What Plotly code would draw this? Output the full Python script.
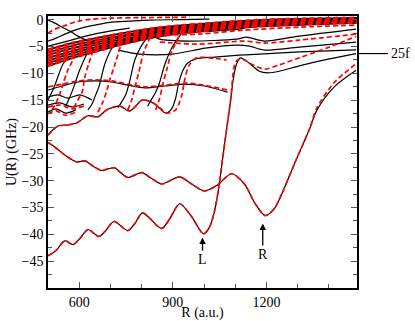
import plotly.graph_objects as go

# --- deep curves (black = one calculation, red dashed = the other) ---
L_R = [500, 526, 554, 580, 602, 628, 663, 685, 711, 756, 778, 803, 864, 890, 922, 960, 998,
       1017, 1033, 1046, 1059, 1072, 1085, 1094, 1104, 1116, 1145, 1177, 1203, 1241, 1305, 1401, 1487]
L_U = [-44.0, -43.0, -41.2, -41.9, -40.8, -39.1, -40.4, -39.3, -37.6, -39.3, -38.0, -36.0, -38.9, -37.1, -34.3, -36.7, -39.9,
       -38.7, -35.8, -31.7, -26.1, -20.5, -15.0, -10.9, -8.25, -7.1, -8.1, -9.6, -9.9, -9.6, -8.6, -7.3, -6.3]
L_RED_R = L_R[:23] + [1097, 1107, 1129, 1151, 1193, 1241, 1305, 1401, 1487]
L_RED_U = L_U[:23] + [-8.6, -7.5, -7.5, -8.25, -9.2, -8.4, -7.1, -5.1, -3.1]

RC_R = [500, 516, 532, 561, 593, 618, 647, 672, 692, 714, 733, 756, 800, 832, 864, 922, 960, 1001,
        1043, 1088, 1129, 1164, 1196, 1225, 1251, 1295, 1337, 1362, 1417, 1487]
RC_U = [-22.9, -23.5, -24.2, -25.5, -26.5, -26.3, -27.4, -28.1, -27.8, -27.6, -28.5, -29.4, -28.5, -29.6, -30.6, -29.3, -30.6, -31.9,
        -30.8, -28.7, -30.6, -34.3, -36.5, -35.2, -32.2, -26.1, -20.5, -16.8, -12.5, -9.4]
RC_RED_R = RC_R[:27] + [1362, 1417, 1487]
RC_RED_U = RC_U[:27] + [-16.4, -11.7, -8.2]

C_R = [500, 516, 532, 564, 593, 628, 660, 688, 730, 762, 803, 842, 877, 896, 909, 918, 931, 947, 973,
       1033, 1113, 1177, 1305, 1487]
C_U = [-21.5, -20.5, -19.8, -19.6, -19.2, -17.9, -18.1, -16.8, -16.1, -17.0, -14.95, -15.7, -17.4, -16.6, -14.6, -12.0, -9.6, -8.1, -7.3,
       -6.95, -6.6, -6.4, -6.0, -5.6]
C_RED_R = C_R[:12] + [883, 909, 928, 938, 951, 976, 1033, 1072]
C_RED_U = C_U[:12] + [-17.4, -16.8, -14.2, -11.2, -8.6, -7.1, -7.2, -7.5]

# --- middle level lines near -12 ... -17 GHz ---
H1_R = [500, 545, 596, 650, 704, 756, 810, 874, 938, 1001, 1075]
H1_U = [-13.1, -12.35, -11.6, -11.4, -11.6, -12.2, -12.7, -12.35, -12.0, -12.35, -13.5]
H1_RED_U = [-12.5, -12.0, -11.4, -11.2, -11.4, -12.0, -12.5, -12.2, -11.8, -12.2, -13.1]
H2_R = [500, 532, 564, 602, 641]
H2_U = [-14.4, -14.0, -14.6, -14.0, -14.95]
H3_R = [500, 538, 577, 615]
H3_U = [-15.9, -15.5, -16.25, -15.7]
H3_RED_U = [-16.3, -15.9, -16.6, -16.1]
H4_R = [500, 526, 557, 589]
H4_U = [-17.2, -16.6, -17.4, -16.8]
H4_RED_U = [-17.5, -17.0, -17.8, -17.2]

# --- steep risers into the manifold ---
R1_R = [500, 510, 522, 535, 548, 564]
R1_U = [-14.95, -13.8, -12.2, -10.1, -8.25, -7.1]
R1_RED_R = [513, 526, 538, 548, 561, 580]
R1_RED_U = [-16.8, -15.5, -13.8, -12.0, -9.75, -7.5]
R2_R = [557, 570, 586, 599, 612, 631]
R2_U = [-16.1, -14.4, -12.0, -9.75, -7.9, -5.65]
R2_RED_R = [583, 596, 609, 618, 631, 647]
R2_RED_U = [-16.4, -14.95, -13.5, -10.7, -8.1, -5.3]
R3_R = [628, 641, 650, 663, 682, 698, 717]
R3_U = [-16.8, -15.7, -14.4, -12.5, -8.25, -6.0, -4.2]
R3_RED_R = [660, 676, 688, 698, 714, 736]
R3_RED_U = [-17.2, -15.3, -13.3, -11.2, -8.4, -4.2]
R4_R = [724, 736, 749, 762, 778, 797, 819]
R4_U = [-16.4, -15.3, -14.0, -11.4, -7.5, -5.1, -3.2]
R4_RED_R = [756, 768, 778, 791, 807, 826]
R4_RED_U = [-16.8, -14.95, -12.7, -9.75, -6.0, -3.4]
R5_R = [819, 832, 845, 858, 874, 896, 928]
R5_U = [-16.1, -14.8, -13.5, -11.6, -8.4, -5.3, -2.5]
R5_RED_R = [845, 858, 867, 880, 896, 922]
R5_RED_U = [-16.8, -14.6, -12.2, -9.4, -6.0, -2.9]

# --- upper left crossings ---
K1_R = [500, 522, 545, 570, 596, 628, 653]
K1_U = [-0.07, -0.63, -1.38, -2.12, -3.05, -3.98, -4.72]
K2_R = [500, 522, 554, 596, 641, 704, 810, 954]
K2_U = [-2.5, -1.75, -1.1, -0.26, 0.11, 0.3, 0.4, 0.48]
K3_R = [500, 526, 554, 586, 618, 666, 704, 762, 826, 922, 1017]
K3_U = [-3.98, -3.42, -2.68, -1.93, -1.38, -0.82, -0.45, -0.26, -0.07, 0.02, 0.11]
K4_R = [500, 538, 586, 634, 698, 762]
K4_U = [-4.91, -4.35, -3.61, -2.86, -2.12, -1.56]

# --- upper right, below the manifold ---
UR1_R = [794, 835, 954, 1113, 1145, 1305, 1487]
UR1_U = [-2.31, -2.12, -2.31, -1.75, -1.38, -1.0, -0.63]
UR2_R = [826, 985, 1129, 1305, 1487]
UR2_U = [-2.86, -2.68, -1.93, -1.38, -1.0]
UR3_R = [826, 858, 954, 1104, 1136, 1193, 1305, 1487]
UR3_U = [-2.68, -3.61, -3.98, -3.61, -3.24, -3.98, -3.05, -1.75]
UR4_R = [858, 985, 1129, 1193, 1305, 1487]
UR4_U = [-4.16, -4.54, -3.98, -4.35, -3.79, -2.68]
UR5_R = [724, 794, 899, 1004, 1104, 1145, 1193, 1305, 1487]
UR5_U = [-5.65, -6.4, -6.4, -5.28, -4.72, -4.91, -5.65, -5.09, -4.16]

# --- dense manifold band (top) ---
BAND_R = [500, 580, 666, 750, 826, 900, 985, 1100, 1250, 1490]
BAND_U = [
    [-5.6, -4.3, -3.3, -2.4, -1.7, -1.2, -0.8, -0.3, 0.1, 0.35],
    [-6.1, -4.8, -3.7, -2.8, -2.0, -1.5, -1.0, -0.5, -0.1, 0.2],
    [-6.6, -5.3, -4.1, -3.1, -2.3, -1.8, -1.3, -0.7, -0.3, 0.05],
    [-7.1, -5.8, -4.5, -3.5, -2.6, -2.0, -1.55, -0.9, -0.5, -0.1],
    [-7.6, -6.2, -4.9, -3.8, -2.9, -2.3, -1.8, -1.1, -0.65, -0.25],
    [-8.1, -6.7, -5.3, -4.1, -3.2, -2.5, -2.0, -1.3, -0.8, -0.4],
    [-8.6, -7.1, -5.7, -4.4, -3.4, -2.7, -2.2, -1.5, -1.0, -0.5],
]

LABEL_25F_U = -6.3

BLACK = "#000000"
RED = "#ff0000"
DASH = "5px,3px"


def add_curve(fig, r, u, red=False, width=None):
    if width is None:
        width = 1.7 if red else 1.2
    fig.add_trace(go.Scatter(
        x=r, y=u, mode="lines",
        line=dict(color=RED if red else BLACK, width=width,
                  dash=DASH if red else "solid", shape="spline", smoothing=0.8),
        hoverinfo="skip", showlegend=False,
    ))


fig = go.Figure()

black_curves = [
    (L_R, L_U), (RC_R, RC_U), (C_R, C_U), (H1_R, H1_U), (H2_R, H2_U), (H3_R, H3_U), (H4_R, H4_U),
    (R1_R, R1_U), (R2_R, R2_U), (R3_R, R3_U), (R4_R, R4_U), (R5_R, R5_U),
    (K1_R, K1_U), (K3_R, K3_U), (K4_R, K4_U),
    (UR1_R, UR1_U), (UR3_R, UR3_U), (UR5_R, UR5_U),
]

red_curves = [
    (L_RED_R, L_RED_U), (RC_RED_R, RC_RED_U), (C_RED_R, C_RED_U), (H1_R, H1_RED_U),
    (H3_R, H3_RED_U), (H4_R, H4_RED_U),
    (R1_RED_R, R1_RED_U), (R2_RED_R, R2_RED_U), (R3_RED_R, R3_RED_U), (R4_RED_R, R4_RED_U),
    (R5_RED_R, R5_RED_U), (K2_R, K2_U), (UR2_R, UR2_U), (UR4_R, UR4_U),
]

for r, u in black_curves:
    add_curve(fig, r, u)
# band: black underneath, thick red dashes on top so the gaps show as black marks
for b in BAND_U:
    add_curve(fig, BAND_R, b, width=1.8)
for r, u in red_curves:
    add_curve(fig, r, u, red=True)
for b in BAND_U:
    add_curve(fig, BAND_R, b, red=True, width=2.6)

font = dict(family="Liberation Serif, Times New Roman, serif", size=14, color="black")

fig.add_annotation(x=995, y=-40.6, ax=0, ay=22, text="L", showarrow=True,
                   arrowhead=2, arrowsize=1, arrowwidth=1.3, arrowcolor="black", font=font)
fig.add_annotation(x=1188, y=-38.0, ax=0, ay=31, text="R", showarrow=True,
                   arrowhead=2, arrowsize=1, arrowwidth=1.3, arrowcolor="black", font=font)

# 25f marker: short line outside the right edge plus its label
fig.add_shape(type="line", xref="paper", yref="y", x0=1.0, x1=1.1, y0=LABEL_25F_U, y1=LABEL_25F_U,
              line=dict(color="black", width=1.2))
fig.add_annotation(x=1.103, xref="paper", y=LABEL_25F_U, yref="y", text="25f", showarrow=False,
                   xanchor="left", yanchor="middle", font=font)

axis_common = dict(
    showline=True, linecolor="black", linewidth=1.5, mirror="allticks",
    ticks="inside", ticklen=6, tickwidth=1, tickcolor="#555555",
    showgrid=False, zeroline=False, tickfont=font, automargin=False,
)

fig.update_xaxes(
    range=[500, 1490], tickvals=[600, 900, 1200],
    minor=dict(dtick=100, tick0=500, ticks="inside", ticklen=4, tickcolor="#555555", showgrid=False),
    title=dict(text="R (a.u.)", font=font, standoff=2),
    **axis_common,
)
fig.update_yaxes(
    range=[-50, 0.7], tickvals=[0, -5, -10, -15, -20, -25, -30, -35, -40, -45],
    minor=dict(dtick=2.5, tick0=0, ticks="inside", ticklen=4, tickcolor="#555555", showgrid=False),
    title=dict(text="U(R) (GHz)", font=font, standoff=2),
    **axis_common,
)

fig.update_layout(
    width=415, height=321,
    margin=dict(l=48, r=58, t=16, b=33),
    plot_bgcolor="white", paper_bgcolor="white",
    font=font,
)

# the page's default body margin would shift the figure by 8 px
fig.write_html("out.html", config={"displayModeBar": False},
               post_script="document.body.style.margin='0px';")
